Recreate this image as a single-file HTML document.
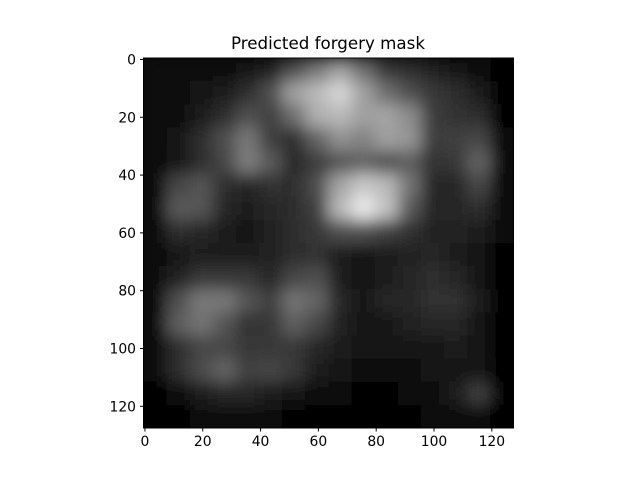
<!DOCTYPE html>
<html><head><meta charset="utf-8"><style>body{margin:0;background:#fff}svg{display:block}text{font-family:"DejaVu Sans","Liberation Sans",sans-serif;fill:#000}</style></head>
<body>
<svg id="chart" width="640" height="480" viewBox="0 0 640 480">
<defs>
<clipPath id="ax"><rect x="143.5" y="58" width="370" height="370"/></clipPath>
<filter id="bl" x="0" y="0" width="1" height="1"><feGaussianBlur stdDeviation="8" edgeMode="duplicate"/></filter>
</defs>
<text x="328" y="49" font-size="16.7" text-anchor="middle">Predicted forgery mask</text>
<rect x="143.5" y="58" width="370" height="370" fill="#000"/>
<g id="cells" clip-path="url(#ax)"><g id="cellsInner" filter="url(#bl)"></g></g>
<rect x="143.5" y="58" width="370" height="370" fill="none" stroke="#000" stroke-width="1"/>
<g id="ticks"></g>
</svg>
<script>
const gridValues = [
[8,8,12,15,20,35,80,120,160,110,55,45,35,25,15,5],
[8,10,20,30,45,80,160,185,215,160,110,80,55,45,30,5],
[8,15,30,45,80,65,110,175,185,160,165,140,60,50,45,5],
[8,20,45,80,120,60,45,100,145,130,160,150,60,65,70,8],
[8,25,45,70,125,90,40,60,85,100,80,95,50,55,100,8],
[8,70,85,45,40,50,45,80,165,200,185,115,40,40,70,8],
[8,90,85,40,30,40,45,65,185,235,195,90,40,40,45,8],
[8,45,40,30,25,35,45,55,80,80,65,50,35,35,30,8],
[8,25,30,30,30,35,45,50,30,20,30,35,40,30,20,5],
[8,35,55,55,55,40,70,80,30,20,30,40,45,40,20,5],
[10,80,120,120,85,65,115,100,40,25,40,40,50,50,30,5],
[10,95,115,85,50,55,95,70,35,20,25,35,40,40,20,5],
[8,45,70,70,55,55,55,40,30,20,20,20,25,30,20,5],
[8,45,75,100,65,70,55,30,20,15,12,15,20,25,25,5],
[5,15,30,40,40,30,20,10,8,5,5,8,15,30,60,5],
[3,5,8,8,8,8,5,5,5,5,5,5,8,12,8,3]
];
const xTicks = [0,20,40,60,80,100,120];
const yTicks = [0,20,40,60,80,100,120];
const NS="http://www.w3.org/2000/svg";
const X0=143.5,Y0=58,S=370/128;
const sx=v=>X0+(v+0.5)*S, sy=v=>Y0+(v+0.5)*S;
const cellUnits=128/gridValues.length;
const g=document.getElementById('cellsInner');
gridValues.forEach((row,r)=>row.forEach((v,c)=>{
 const e=document.createElementNS(NS,'rect');
 
 
 e.setAttribute('x',X0+c*cellUnits*S);e.setAttribute('y',Y0+r*cellUnits*S);
 e.setAttribute('width',cellUnits*S+0.5);e.setAttribute('height',cellUnits*S+0.5);
 e.setAttribute('fill',`rgb(${v},${v},${v})`);g.appendChild(e);
}));
const t=document.getElementById('ticks');
xTicks.forEach(v=>{
 const l=document.createElementNS(NS,'line');
 
 
 l.setAttribute('x1',sx(v));l.setAttribute('x2',sx(v));l.setAttribute('y1',428);l.setAttribute('y2',431.5);l.setAttribute('stroke','#000');t.appendChild(l);
 const s=document.createElementNS(NS,'text');
 
 
 s.setAttribute('x',sx(v));s.setAttribute('y',446);s.setAttribute('font-size','13.9');s.setAttribute('text-anchor','middle');s.textContent=v;t.appendChild(s);
});
yTicks.forEach(v=>{
 const l=document.createElementNS(NS,'line');
 
 
 l.setAttribute('x1',140);l.setAttribute('x2',143.5);l.setAttribute('y1',sy(v));l.setAttribute('y2',sy(v));l.setAttribute('stroke','#000');t.appendChild(l);
 const s=document.createElementNS(NS,'text');
 
 
 s.setAttribute('x',136);s.setAttribute('y',sy(v)+5);s.setAttribute('font-size','13.9');s.setAttribute('text-anchor','end');s.textContent=v;t.appendChild(s);
});
</script>
</body></html>
